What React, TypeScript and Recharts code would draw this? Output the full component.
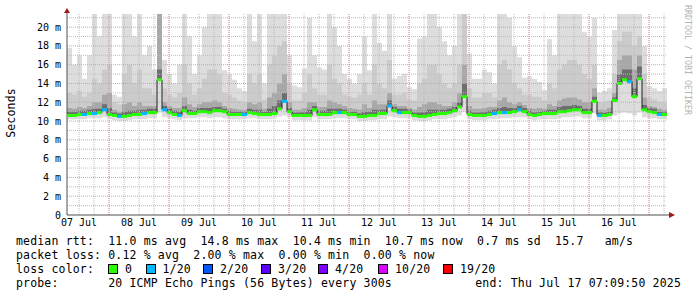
import React from 'react';
import { ComposedChart, Area, Line, XAxis, YAxis, ReferenceLine, ReferenceDot } from 'recharts';

// ---- data (2-hour steps, starting Thu Jul 07 07:09:50) ----
const STEP_HOURS = 2;
const medianMs = [
  10.6,10.6,10.7,10.7,10.8,10.8,10.9,11.2,10.7,10.6,
  10.5,10.5,10.6,10.7,10.7,10.8,10.9,10.9,14.4,11.2,
  10.9,10.7,10.6,11.1,10.8,10.8,11.0,11.0,10.9,11.1,
  11.1,11.0,10.7,10.7,10.7,10.7,10.9,10.8,10.7,10.7,
  10.7,10.8,11.3,12.1,11.0,10.6,10.6,10.6,10.6,11.2,
  10.7,10.7,10.7,10.9,10.9,10.9,10.7,10.7,10.5,10.5,
  10.6,10.6,10.8,10.8,11.6,11.1,10.9,10.9,10.9,10.6,
  10.5,10.5,10.6,10.7,10.8,10.8,10.9,11.1,11.5,12.6,
  10.7,10.6,10.6,10.6,10.7,10.8,10.9,10.9,10.9,11.0,
  11.2,11.0,10.7,10.6,10.7,10.8,10.8,10.8,11.0,11.0,
  11.1,11.2,11.2,10.9,10.9,12.1,10.6,10.6,10.7,12.2,
  14.0,14.4,14.2,12.6,14.5,11.2,11.0,10.9,10.7,10.7,
];
const lossCount = [
  0,0,0,1,0,1,0,1,0,0,
  1,0,0,0,0,1,0,0,0,1,
  0,0,1,0,0,0,0,0,0,0,
  0,0,0,0,0,1,0,0,0,0,
  0,0,0,1,0,0,0,0,0,0,
  0,0,0,0,1,0,0,0,0,0,
  0,0,0,0,1,0,1,0,0,0,
  0,0,0,0,0,0,0,0,0,0,
  0,0,0,0,0,1,0,1,0,0,
  1,0,0,0,0,0,0,0,0,0,
  0,0,0,0,0,0,1,0,0,0,
  0,0,1,0,0,0,0,0,1,0,
];
const smokeLowMs = [
  10.2,10.2,10.2,10.2,10.3,10.3,10.3,10.4,10.2,10.1,
  10.0,10.0,10.1,10.2,10.2,10.2,10.3,10.3,10.9,10.4,
  10.3,10.2,10.1,10.3,10.3,10.3,10.4,10.4,10.3,10.4,
  10.4,10.3,10.2,10.2,10.2,10.2,10.3,10.3,10.2,10.2,
  10.2,10.3,10.5,10.6,10.4,10.1,10.1,10.1,10.1,10.4,
  10.2,10.2,10.2,10.3,10.3,10.3,10.2,10.2,10.0,10.0,
  10.1,10.1,10.2,10.2,10.5,10.4,10.3,10.3,10.3,10.1,
  10.0,10.0,10.1,10.2,10.2,10.2,10.3,10.4,10.6,11.0,
  10.2,10.1,10.1,10.1,10.2,10.2,10.3,10.3,10.3,10.4,
  10.4,10.4,10.2,10.1,10.2,10.2,10.2,10.2,10.3,10.4,
  10.4,10.5,10.5,10.3,10.3,10.8,10.1,10.1,10.2,10.6,
  10.8,10.9,10.8,10.6,10.9,10.4,10.3,10.3,10.2,10.2,
];
const smokeHighMs = [
  17.8,16.0,17.0,14.5,17.0,21.4,19.0,21.4,21.4,12.8,
  12.6,21.4,21.4,19.0,21.4,17.0,18.0,15.5,21.4,16.5,
  15.0,14.0,16.0,21.4,19.0,15.0,17.0,20.0,21.4,21.4,
  21.4,15.4,15.0,14.4,13.5,13.2,21.4,18.5,21.4,14.0,
  21.4,21.4,21.4,21.4,17.0,13.8,13.6,15.6,21.0,17.0,
  15.7,15.5,21.4,20.0,18.0,15.0,14.5,14.0,15.0,19.0,
  15.4,21.4,18.3,17.5,21.4,14.5,14.8,15.0,13.6,13.4,
  18.8,19.0,21.4,21.4,20.0,18.5,17.0,18.0,21.4,21.4,
  17.2,14.5,14.5,15.5,15.2,14.0,21.4,21.4,21.0,18.0,
  16.8,14.6,14.8,14.5,14.2,13.3,18.7,17.0,21.4,21.4,
  21.4,21.4,21.4,19.5,19.0,21.0,13.0,13.2,13.5,19.7,
  21.4,21.4,21.4,21.4,21.4,18.0,13.7,13.5,13.2,13.5,
];
const smokeMidMs = [
  13.0,12.8,13.2,12.6,13.0,14.5,14.0,15.5,16.0,12.0,
  11.8,15.0,16.0,14.0,15.5,13.5,13.5,12.8,21.4,13.5,
  12.8,12.5,13.0,16.0,14.0,12.8,13.5,14.5,15.5,15.5,
  15.0,13.0,12.8,12.5,12.2,12.0,15.0,14.0,15.0,12.3,
  16.0,17.0,18.0,18.5,14.0,12.2,12.2,13.0,15.0,13.5,
  12.8,12.8,16.0,14.5,14.0,12.8,12.6,12.5,12.8,14.0,
  12.8,16.0,14.0,13.5,16.5,12.8,12.8,13.0,12.3,12.2,
  14.0,14.5,16.0,16.0,15.0,14.0,13.5,14.0,16.0,21.4,
  13.5,12.5,12.5,13.0,13.0,12.5,16.0,16.5,15.5,14.0,
  13.5,12.8,12.8,12.6,12.6,12.2,14.0,13.5,15.5,16.0,
  16.5,16.5,16.0,15.0,14.5,16.0,12.0,12.0,12.2,15.0,
  18.5,19.5,19.5,18.0,19.0,15.0,12.5,12.3,12.0,12.0,
];
const smokeInnerMs = [
  11.4,11.3,11.5,11.4,11.6,12.0,12.0,12.8,13.0,11.2,
  11.0,11.8,12.0,11.6,12.0,11.6,11.6,11.6,21.4,12.0,
  11.6,11.4,11.4,12.5,11.8,11.5,11.8,12.0,12.0,12.2,
  12.0,11.6,11.4,11.3,11.2,11.2,12.0,11.8,12.0,11.3,
  12.5,13.0,14.0,15.0,12.0,11.2,11.2,11.4,12.0,12.0,
  11.5,11.5,12.2,12.0,11.8,11.6,11.4,11.3,11.2,11.8,
  11.4,12.2,11.8,11.8,13.0,11.8,11.6,11.6,11.4,11.2,
  11.5,11.8,12.0,12.0,11.8,11.6,11.6,12.0,13.0,16.0,
  11.6,11.3,11.3,11.4,11.5,11.5,12.2,12.5,12.0,11.8,
  12.0,11.7,11.4,11.3,11.4,11.3,11.8,11.6,12.2,12.4,
  12.5,12.5,12.3,12.0,12.0,13.5,11.2,11.2,11.4,13.0,
  16.5,17.0,17.0,15.5,17.0,12.5,11.6,11.5,11.3,11.2,
];
const smokeCoreMs = [
  11.0,11.0,11.1,11.1,11.2,11.3,11.3,11.8,11.4,10.9,
  10.8,11.0,11.1,11.1,11.2,11.2,11.3,11.3,15.5,11.6,
  11.3,11.1,11.0,11.6,11.2,11.1,11.4,11.4,11.4,11.5,
  11.5,11.3,11.1,11.0,11.0,11.0,11.3,11.2,11.2,11.0,
  11.3,11.6,12.2,13.0,11.4,10.9,10.9,11.0,11.2,11.6,
  11.1,11.1,11.3,11.3,11.3,11.2,11.0,11.0,10.8,11.0,
  11.0,11.2,11.2,11.2,12.2,11.5,11.3,11.3,11.2,10.9,
  10.9,11.0,11.2,11.2,11.2,11.2,11.3,11.5,12.0,14.0,
  11.1,10.9,10.9,11.0,11.1,11.2,11.4,11.5,11.4,11.4,
  11.6,11.4,11.1,10.9,11.0,11.1,11.2,11.2,11.5,11.6,
  11.6,11.7,11.6,11.3,11.3,12.6,10.9,10.9,11.0,12.5,
  15.0,15.5,15.5,13.5,15.8,11.7,11.4,11.3,11.0,11.0,
];

const dayLabels = ['07 Jul','08 Jul','09 Jul','10 Jul','11 Jul','12 Jul','13 Jul','14 Jul','15 Jul','16 Jul'];
const yTickValues = [0,2,4,6,8,10,12,14,16,18,20];
const yTickLabels = ['0','2 m','4 m','6 m','8 m','10 m','12 m','14 m','16 m','18 m','20 m'];
const yMinorValues = [1,3,5,7,9,11,13,15,17,19,21];
const lossThresholds = [0,1,2,3,4,10,19];
const lossLabels = ['0','1/20','2/20','3/20','4/20','10/20','19/20'];
const lossColors = ['#26ff00','#00b8ff','#0059ff','#5e00ff','#7e00ff','#dd00ff','#ff0000'];

const statsLine1 = 'median rtt:  11.0 ms avg  14.8 ms max  10.4 ms min  10.7 ms now  0.7 ms sd  15.7   am/s';
const statsLine2 = 'packet loss: 0.12 % avg  2.00 % max  0.00 % min  0.00 % now';
const probeLine = 'probe:       20 ICMP Echo Pings (56 Bytes) every 300s';
const endLine = 'end: Thu Jul 17 07:09:50 2025';

// ---- axis configuration ----
const SPAN_HOURS = 240;
const FIRST_NOON = 4.836; // hours from start to Jul 07 12:00
const FIRST_MIDNIGHT = 16.836;
const Y_MAX = 21.4;
const noonTicks = dayLabels.map((_, k) => FIRST_NOON + 24 * k);
const minorV: number[] = [];
for (let h = FIRST_NOON; h < SPAN_HOURS; h += 6) minorV.push(h);
const majorV: number[] = [];
for (let h = FIRST_MIDNIGHT; h < SPAN_HOURS; h += 24) majorV.push(h);

const W = 697, H = 297;
const M = { top: 14, right: 30, bottom: 62, left: 0 };
const YW = 67;
const PLOT_W = W - YW - M.right;
const STEP_PX = PLOT_W / (SPAN_HOURS / STEP_HOURS);

const rows: any[] = medianMs.map((m, i) => ({
  t: i * STEP_HOURS,
  med: m,
  loss: lossCount[i],
  light: [smokeLowMs[i], smokeHighMs[i]],
  mid: [m, smokeMidMs[i]],
  inner: [m, smokeInnerMs[i]],
  core: [m, smokeCoreMs[i]],
}));
rows.push({ ...rows[rows.length - 1], t: SPAN_HOURS, end: true });

const lossColor = (n: number) => {
  let c = lossColors[0];
  lossThresholds.forEach((th, k) => { if (n >= th) c = lossColors[k]; });
  return c;
};

const MedianDot = (props: any) => {
  const { cx, cy, payload, index } = props;
  if (payload?.end || cx == null || cy == null) return <g key={'d' + index} />;
  return <rect key={'d' + index} x={cx} y={cy - 1.5} width={STEP_PX} height={3} fill={lossColor(payload.loss)} />;
};

const FONT = '"DejaVu Sans Mono", monospace';
const ARROW = '#a01818';
const AXIS = '#505050';

const UpArrow = (props: any) => {
  const { cx, cy } = props;
  return (
    <g>
      <line x1={cx} y1={cy} x2={cx} y2={cy - 4} stroke={AXIS} strokeWidth={1} />
      <polygon points={`${cx - 3},${cy - 1} ${cx + 3},${cy - 1} ${cx},${cy - 6}`} fill={ARROW} />
    </g>
  );
};
const RightArrow = (props: any) => {
  const { cx, cy } = props;
  return (
    <g>
      <line x1={cx} y1={cy} x2={cx + 4} y2={cy} stroke={AXIS} strokeWidth={1} />
      <polygon points={`${cx + 2},${cy - 3} ${cx + 2},${cy + 3} ${cx + 8},${cy}`} fill={ARROW} />
    </g>
  );
};

const textStyle: React.CSSProperties = {
  position: 'absolute', fontFamily: FONT, fontSize: 11.5, letterSpacing: '0.17px', lineHeight: '14px',
  whiteSpace: 'pre', color: '#000', margin: 0,
};
const lossBoxLefts = [108, 145.5, 203, 261, 318, 378, 443];

export default function App() {
  return (
    <div style={{ position: 'absolute', left: 0, top: 0, width: W, height: H, background: '#fff', overflow: 'hidden' }}>
      <ComposedChart width={W} height={H} data={rows} margin={M}>
        <XAxis
          dataKey="t" type="number" domain={[0, SPAN_HOURS]} allowDataOverflow
          ticks={noonTicks} tickFormatter={(_v: any, i: number) => dayLabels[i]}
          interval={0} height={20} tickLine={false} tickSize={2} tickMargin={2}
          axisLine={{ stroke: AXIS }}
          tick={{ fontFamily: FONT, fontSize: 10, fill: '#000' }}
        />
        <YAxis
          type="number" domain={[0, Y_MAX]} allowDataOverflow width={YW}
          ticks={yTickValues} tickFormatter={(_v: any, i: number) => yTickLabels[i]}
          interval={0} tickLine={false} tickSize={4} tickMargin={2}
          axisLine={{ stroke: AXIS }}
          tick={{ fontFamily: FONT, fontSize: 10, fill: '#000' }}
        />
        <Area dataKey="light" type="stepAfter" stroke="none" fill="#dddddd" fillOpacity={1} isAnimationActive={false} dot={false} activeDot={false} />
        <Area dataKey="mid" type="stepAfter" stroke="none" fill="#cbcbcb" fillOpacity={1} isAnimationActive={false} dot={false} activeDot={false} />
        <Area dataKey="inner" type="stepAfter" stroke="none" fill="#a8a8a8" fillOpacity={1} isAnimationActive={false} dot={false} activeDot={false} />
        <Area dataKey="core" type="stepAfter" stroke="none" fill="#6e6e6e" fillOpacity={1} isAnimationActive={false} dot={false} activeDot={false} />
        {yMinorValues.map((v) => (
          <ReferenceLine key={'ym' + v} y={v} stroke="#bdbdbd" strokeDasharray="1 1" />
        ))}
        {minorV.map((v) => (
          <ReferenceLine key={'xm' + v} x={v} stroke="#bdbdbd" strokeDasharray="1 1" />
        ))}
        {yTickValues.filter((v) => v > 0).map((v) => (
          <ReferenceLine key={'yM' + v} y={v} stroke="#e49a9a" strokeDasharray="1 1" />
        ))}
        {majorV.map((v) => (
          <ReferenceLine key={'xM' + v} x={v} stroke="#e49a9a" strokeDasharray="1 1" />
        ))}
        <Line dataKey="med" type="stepAfter" stroke="#202020" strokeWidth={1} isAnimationActive={false} dot={MedianDot} activeDot={false} />
        <ReferenceDot x={0} y={Y_MAX} r={0} ifOverflow="visible" shape={UpArrow} />
        <ReferenceDot x={SPAN_HOURS} y={0} r={0} ifOverflow="visible" shape={RightArrow} />
      </ComposedChart>

      <div style={{ ...textStyle, left: 11, top: 113, transform: 'translate(-50%, -50%) rotate(-90deg)' }}>Seconds</div>
      <div style={{ ...textStyle, fontSize: 8.3, letterSpacing: 0, color: '#b4b4b4', left: 688, top: 60, transform: 'translate(-50%, -50%) rotate(90deg)' }}>RRDTOOL / TOBI OETIKER</div>

      <div style={{ ...textStyle, left: 16, top: 234 }}>{statsLine1}</div>
      <div style={{ ...textStyle, left: 16, top: 248 }}>{statsLine2}</div>
      <div style={{ ...textStyle, left: 16, top: 262 }}>loss color:</div>
      {lossLabels.map((lab, k) => (
        <React.Fragment key={lab}>
          <div style={{ position: 'absolute', left: lossBoxLefts[k], top: 264, width: 8, height: 8, background: lossColors[k], border: '1px solid #000' }} />
          <div style={{ ...textStyle, left: lossBoxLefts[k] + 17, top: 262 }}>{lab}</div>
        </React.Fragment>
      ))}
      <div style={{ ...textStyle, left: 16, top: 276 }}>{probeLine}</div>
      <div style={{ ...textStyle, right: W - 681, top: 276 }}>{endLine}</div>
    </div>
  );
}
